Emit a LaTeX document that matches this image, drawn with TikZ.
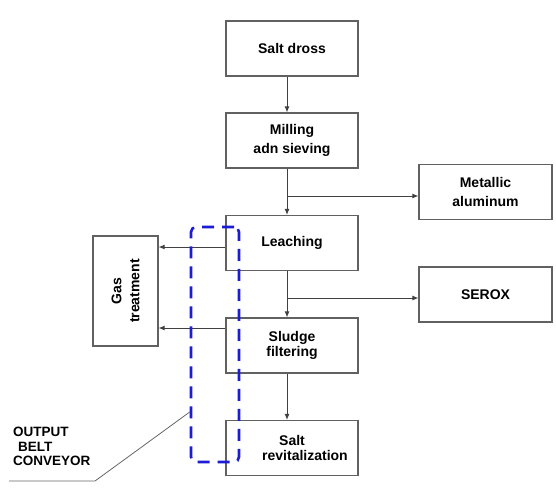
\documentclass[tikz,border=0pt]{standalone}
\usepackage{fontspec}
\setmainfont{Liberation Sans}
\usetikzlibrary{arrows.meta}
\definecolor{beltblue}{RGB}{28,28,212}
\tikzset{
	procbox/.style={draw=black!62, line width=1.2pt, minimum width=132pt, minimum height=55pt, inner sep=0pt, align=center, font=\bfseries\fontsize{14}{15}\selectfont},
	flow/.style={draw=black!75, line width=0.9pt, -{Latex[length=6pt,width=5pt]}},
}

\begin{document}
\begin{tikzpicture}[x=1pt, y=-1pt]
			%%%%% START %%%%%
			\useasboundingbox (0, 0) rectangle (556, 487);
			
			\node[procbox] (dross) at (292, 48.5) {Salt dross};
			\node[procbox] (mill) at (292, 140.5) {Milling\\[4pt]adn sieving};
			\node[procbox] (leach) at (292, 243) {Leaching};
			\node[procbox] (sludge) at (292, 345.5) {Sludge\\filtering};
			\node[procbox] (revit) at (292, 448) {Salt\\\hspace*{26pt}revitalization};
			
			\node[procbox, minimum width=133pt] (metal) at (485.5, 192) {Metallic\\[4pt]aluminum};
			\node[procbox, minimum width=133pt] (serox) at (485.5, 294.5) {SEROX};
			\node[procbox, minimum width=110pt, minimum height=65pt, rotate=90] (gas) at (125.5, 291) {Gas\\[3pt]treatment};
			
			\coordinate (trunk) at (287, 0);
			
			\draw[flow] (dross.south -| trunk) -- (mill.north -| trunk);
			\draw[flow] (mill.south -| trunk) -- (leach.north -| trunk);
			\draw[flow] (leach.south -| trunk) -- (sludge.north -| trunk);
			\draw[flow] (sludge.south -| trunk) -- (revit.north -| trunk);
			
			\draw[flow] ([yshift=-4pt]metal.west -| trunk) -- ([yshift=-4pt]metal.west);
			\draw[flow] ([yshift=-3.5pt]serox.west -| trunk) -- ([yshift=-3.5pt]serox.west);
			
			\draw[flow] ([yshift=-4pt]leach.west) -- ([yshift=-4pt]leach.west -| gas.south);
			\draw[flow] ([yshift=17.5pt]sludge.west) -- ([yshift=17.5pt]sludge.west -| gas.south);
			
			% output belt conveyor
			\node[draw=beltblue, line width=2.6pt, dash pattern=on 12pt off 8pt, rounded corners=5pt, minimum width=48pt, minimum height=235pt, inner sep=0pt] (belt) at (215, 344.5) {};
			
			\coordinate (bend) at (95, 481);
			\coordinate (tail) at (9, 481);
			\draw[line width=0.8pt, color=black!60] ([yshift=-67.5pt]belt.west) -- (bend) -- (tail);
			\node[font=\bfseries\fontsize{13.5}{14.5}\selectfont, align=left, anchor=north west, inner sep=0pt] (belttext) at (13, 427) {OUTPUT\\\hspace*{5pt}BELT\\CONVEYOR};
			
			%%%%% END %%%%%
\end{tikzpicture}
\end{document}
